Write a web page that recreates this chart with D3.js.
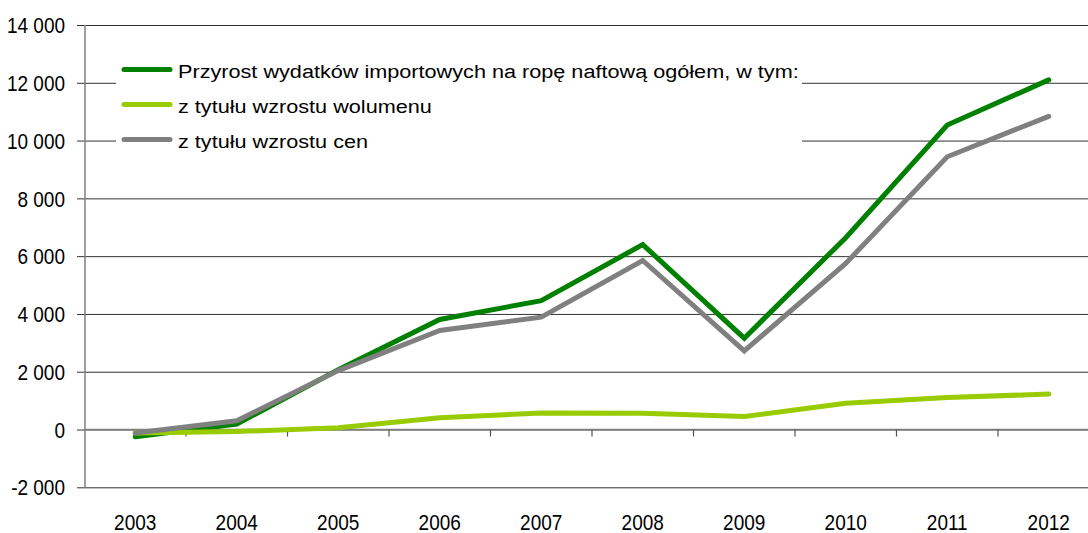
<!DOCTYPE html>
<html>
<head>
<meta charset="utf-8">
<script src="https://cdn.jsdelivr.net/npm/d3@7"></script>
<style>
  body { margin: 0; background: #fff; }
  svg { display: block; font-family: "Liberation Sans", Arial, sans-serif; }
</style>
</head>
<body>
<div id="chart"></div>
<script>
// Przyrost wydatkow importowych na rope naftowa
const years = ["2003", "2004", "2005", "2006", "2007", "2008", "2009", "2010", "2011", "2012"];
const totalVals = [-250, 190, 2070, 3810, 4460, 6400, 3160, 6640, 10540, 12100];
const volumeVals = [-120, -70, 60, 410, 570, 565, 450, 910, 1110, 1225];
const priceVals = [-120, 300, 2040, 3430, 3890, 5850, 2720, 5750, 9440, 10840];
const yTicks = [-2000, 0, 2000, 4000, 6000, 8000, 10000, 12000, 14000];
const yTickLabels = ["-2 000", "0", "2 000", "4 000", "6 000", "8 000", "10 000", "12 000", "14 000"];
const seriesNames = [
  "Przyrost wydatków importowych na ropę naftową ogółem, w tym:",
  "z tytułu wzrostu wolumenu",
  "z tytułu wzrostu cen"
];

const w = 1088;
const h = 533;
const stretch = "scale(1,1.15)"; // axis text is a bit taller than it is wide
const legendStretch = "scale(1.14,1)"; // legend text is wider

const series = [
  { name: seriesNames[0], vals: totalVals, color: "#008000" },
  { name: seriesNames[1], vals: volumeVals, color: "#99cc00" },
  { name: seriesNames[2], vals: priceVals, color: "#808080" }
];

const x = d3.scaleBand().domain(years).range([84.5, 1099.5]);
const y = d3.scaleLinear().domain([-2000, 14000]).range([487.3, 25]);

const svg = d3.select("#chart").append("svg")
  .attr("width", w)
  .attr("height", h);

// gridlines + y tick labels
const yAxis = d3.axisLeft(y)
  .tickValues(yTicks)
  .tickSize(-1030)
  .tickPadding(12)
  .tickFormat((d, i) => yTickLabels[i]);

const gy = svg.append("g")
  .attr("transform", "translate(77,0)")
  .call(yAxis);
gy.select(".domain").remove();
gy.selectAll(".tick line").attr("stroke", "#333").attr("stroke-width", 1);
gy.selectAll(".tick text")
  .attr("font-size", 19)
  .attr("fill", "#000")
  .attr("dy", "0.35em")
  .attr("transform", stretch);

// y axis line
svg.append("line")
  .attr("x1", 85).attr("x2", 85)
  .attr("y1", y(14000)).attr("y2", y(-2000))
  .attr("stroke", "#808080").attr("stroke-width", 1.5);

// x axis along zero with ticks between categories
svg.append("line")
  .attr("x1", 85).attr("x2", w)
  .attr("y1", y(0)).attr("y2", y(0))
  .attr("stroke", "#808080").attr("stroke-width", 1.5);

svg.selectAll(".xtick")
  .data(years.slice(1))
  .enter()
  .append("line")
  .attr("class", "xtick")
  .attr("x1", (d) => x(d)).attr("x2", (d) => x(d))
  .attr("y1", y(0)).attr("y2", y(0) + 7)
  .attr("stroke", "#555").attr("stroke-width", 1.2);

// year labels at the bottom
const gx = svg.append("g")
  .attr("transform", `translate(0,${y(-2000)})`)
  .call(d3.axisBottom(x).tickSize(0));
gx.select(".domain").remove();
gx.selectAll(".tick text")
  .attr("font-size", 19)
  .attr("fill", "#000")
  .attr("y", 0)
  .attr("dy", 0)
  .attr("transform", `translate(0,42.7) ${stretch}`);

// lines
const line = d3.line()
  .x((d, i) => x(years[i]) + x.bandwidth() / 2)
  .y((d) => y(d));

svg.selectAll(".series")
  .data(series)
  .enter()
  .append("path")
  .attr("class", "series")
  .attr("d", (d) => line(d.vals))
  .attr("fill", "none")
  .attr("stroke", (d) => d.color)
  .attr("stroke-width", 5)
  .attr("stroke-linecap", "round")
  .attr("stroke-linejoin", "miter");

// legend (white box covers the gridlines)
const legend = svg.append("g");
legend.append("rect")
  .attr("x", 116).attr("y", 52)
  .attr("width", 686).attr("height", 106)
  .attr("fill", "#fff");

const item = legend.selectAll(".item")
  .data(series)
  .enter()
  .append("g")
  .attr("class", "item")
  .attr("transform", (d, i) => `translate(0,${69.5 + i * 35})`);

item.append("line")
  .attr("x1", 124).attr("x2", 170)
  .attr("stroke", (d) => d.color)
  .attr("stroke-width", 5)
  .attr("stroke-linecap", "round");

item.append("text")
  .attr("transform", `translate(178,8.2) ${legendStretch}`)
  .attr("font-size", 19)
  .attr("fill", "#000")
  .text((d) => d.name);
</script>
</body>
</html>
